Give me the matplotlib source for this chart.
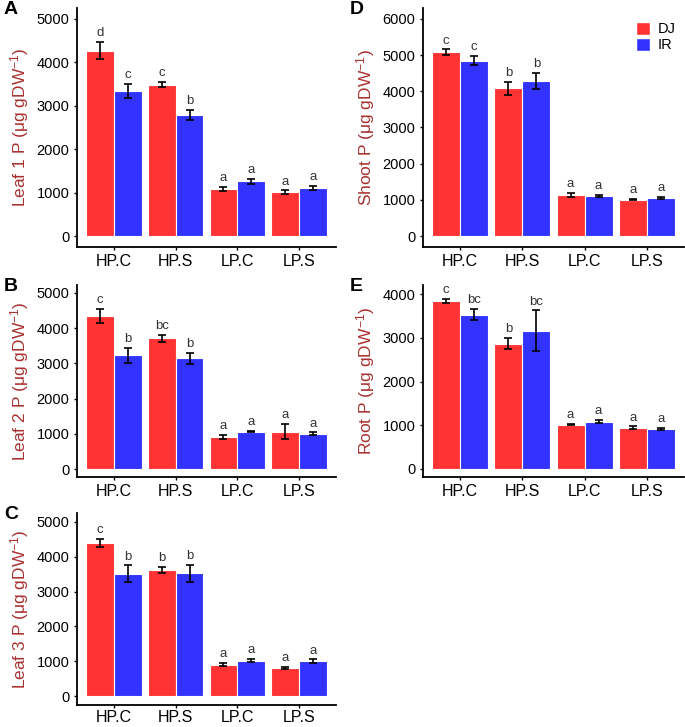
import numpy as np
import matplotlib.pyplot as plt
from matplotlib.patches import Patch

plt.rcParams['font.family'] = ['Liberation Sans', 'DejaVu Sans']
plt.rcParams['mathtext.default'] = 'regular'

groups = ['HP.C', 'HP.S', 'LP.C', 'LP.S']

# panel A: leaf 1
a_dj = [4270, 3490, 1080, 1005]
a_dj_err = [195, 65, 45, 45]
a_ir = [3340, 2790, 1260, 1105]
a_ir_err = [170, 120, 65, 45]
a_let_dj = ['d', 'c', 'a', 'a']
a_let_ir = ['c', 'b', 'a', 'a']

# panel B: leaf 2
b_dj = [4350, 3710, 915, 1065]
b_dj_err = [205, 110, 50, 225]
b_ir = [3230, 3140, 1065, 1000]
b_ir_err = [220, 150, 20, 40]
b_let_dj = ['c', 'bc', 'a', 'a']
b_let_ir = ['b', 'b', 'a', 'a']

# panel C: leaf 3
c_dj = [4390, 3630, 905, 810]
c_dj_err = [115, 85, 55, 20]
c_ir = [3515, 3525, 1020, 1000]
c_ir_err = [235, 245, 45, 55]
c_let_dj = ['c', 'b', 'a', 'a']
c_let_ir = ['b', 'b', 'a', 'a']

# panel D: shoot
d_dj = [5080, 4090, 1130, 1005]
d_dj_err = [80, 180, 55, 20]
d_ir = [4850, 4290, 1105, 1050]
d_ir_err = [130, 225, 40, 35]
d_let_dj = ['c', 'b', 'a', 'a']
d_let_ir = ['c', 'b', 'a', 'a']

# panel E: root
e_dj = [3845, 2865, 1015, 945]
e_dj_err = [40, 130, 15, 30]
e_ir = [3525, 3165, 1085, 915]
e_ir_err = [130, 460, 40, 30]
e_let_dj = ['c', 'b', 'a', 'a']
e_let_ir = ['bc', 'bc', 'a', 'a']

red = '#FF3333'
blue = '#3333FF'
lab_col = '#A83232'

W, H = 685, 727
fig = plt.figure(figsize=(W/100, H/100), dpi=100)

def make_ax(left, right, top, bottom):
    return fig.add_axes([left/W, 1 - bottom/H, (right-left)/W, (bottom-top)/H])

def panel(ax, dj, dje, ir, ire, ldj, lir, ylab, yticks, ylim, tag, xpad=2.5):
    x = np.arange(1, len(groups) + 1)
    for xs, v, e, col, lets in [(x - 0.225, dj, dje, red, ldj),
                                (x + 0.225, ir, ire, blue, lir)]:
        ax.bar(xs, v, width=0.45, color=col, edgecolor='white', linewidth=0.8, zorder=2)
        ax.errorbar(xs, v, yerr=e, fmt='none', ecolor='black', elinewidth=1.2,
                    capsize=3.2, capthick=1.2, zorder=3)
        for xi, vi, ei, t in zip(xs, v, e, lets):
            ax.annotate(t, (xi, vi + ei), xytext=(0, 2), textcoords='offset points',
                        ha='center', va='bottom', fontsize=9.5, color='#333333')
    ax.set_xlim(0.4, 4.6)
    ax.set_ylim(*ylim)
    ax.set_xticks(x)
    ax.set_xticklabels(groups, fontsize=11.5, color='black')
    ax.set_yticks(yticks)
    ax.tick_params(axis='y', labelsize=10.5, labelcolor='black', pad=3)
    ax.tick_params(axis='x', pad=xpad)
    ax.tick_params(length=2.5, width=1, color='black')
    ax.set_ylabel(ylab, fontsize=12.5, color=lab_col, labelpad=4)
    for s in ['top', 'right']:
        ax.spines[s].set_visible(False)
    for s in ['left', 'bottom']:
        ax.spines[s].set_linewidth(1.3)
    ax.annotate(tag, xy=(0, 1), xycoords='axes fraction', xytext=(-73, 7),
                textcoords='offset pixels', fontsize=14, fontweight='bold',
                va='top', ha='left')

axA = make_ax(77, 336, 8, 247)
panel(axA, a_dj, a_dj_err, a_ir, a_ir_err, a_let_dj, a_let_ir,
      r'Leaf 1 P (μg gDW$^{-1}$)', range(0, 5001, 1000), (-253, 5253), 'A')

axB = make_ax(77, 336, 285, 477)
panel(axB, b_dj, b_dj_err, b_ir, b_ir_err, b_let_dj, b_let_ir,
      r'Leaf 2 P (μg gDW$^{-1}$)', range(0, 5001, 1000), (-227, 5227), 'B')

axC = make_ax(77, 336, 513, 705)
panel(axC, c_dj, c_dj_err, c_ir, c_ir_err, c_let_dj, c_let_ir,
      r'Leaf 3 P (μg gDW$^{-1}$)', range(0, 5001, 1000), (-257, 5257), 'C',
      xpad=1.2)

axD = make_ax(423, 684, 8, 247)
panel(axD, d_dj, d_dj_err, d_ir, d_ir_err, d_let_dj, d_let_ir,
      r'Shoot P (μg gDW$^{-1}$)', range(0, 6001, 1000), (-304, 6304), 'D')

axE = make_ax(423, 684, 285, 477)
panel(axE, e_dj, e_dj_err, e_ir, e_ir_err, e_let_dj, e_let_ir,
      r'Root P (μg gDW$^{-1}$)', range(0, 4001, 1000), (-183, 4206), 'E')

handles = [Patch(facecolor=red, edgecolor='white', label='DJ'),
           Patch(facecolor=blue, edgecolor='white', label='IR')]
axD.legend(handles=handles, loc='upper right', bbox_to_anchor=(1.0, 0.98),
           frameon=False, fontsize=10.5, handlelength=1.0, handleheight=1.0,
           handletextpad=0.5, labelspacing=0.1, borderaxespad=0.2)

fig.savefig('out.png', dpi=100)
